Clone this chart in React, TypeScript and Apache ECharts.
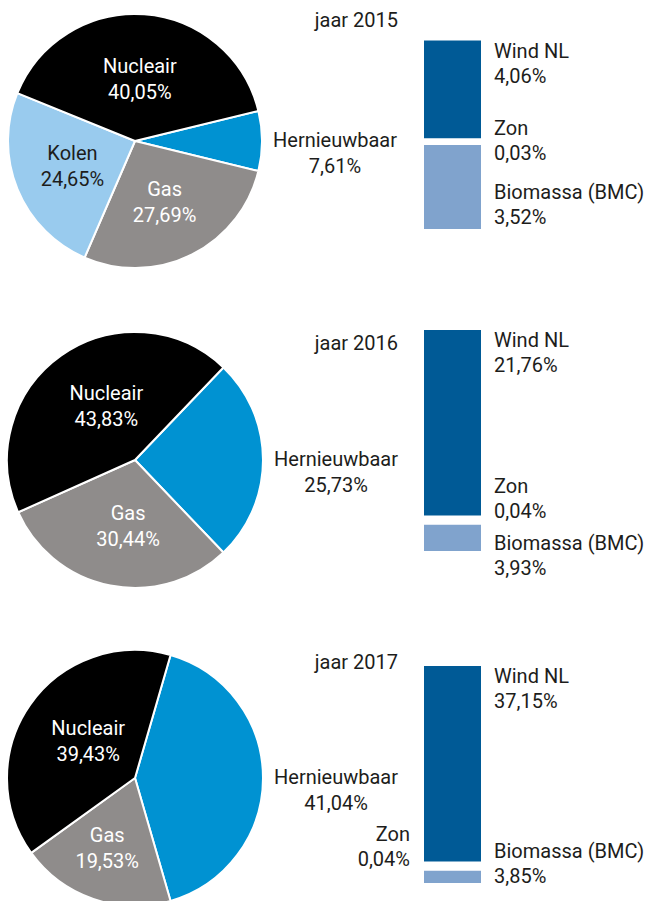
import React, { useEffect, useRef } from 'react';
import * as echarts from 'echarts';

// ---------- data ----------
const years = ['jaar 2015', 'jaar 2016', 'jaar 2017'];

const sources2015 = ['Hernieuwbaar', 'Gas', 'Kolen', 'Nucleair'];
const values2015 = [7.61, 27.69, 24.65, 40.05];
const sources2016 = ['Hernieuwbaar', 'Gas', 'Nucleair'];
const values2016 = [25.73, 30.44, 43.83];
const sources2017 = ['Hernieuwbaar', 'Gas', 'Nucleair'];
const values2017 = [41.04, 19.53, 39.43];

const renewableParts = ['Wind NL', 'Zon', 'Biomassa (BMC)'];
const windValues = [4.06, 21.76, 37.15];
const zonValues = [0.03, 0.04, 0.04];
const biomassaValues = [3.52, 3.93, 3.85];

// ---------- styles / layout ----------
const TEXT = '#1d1d1b';
const FONT = 'Roboto';
const sliceColors: Record<string, string> = {
  Hernieuwbaar: '#0092d2',
  Gas: '#8f8c8b',
  Kolen: '#99cbee',
  Nucleair: '#000000',
};
const sliceLabelColors: Record<string, string> = {
  Hernieuwbaar: TEXT,
  Gas: '#ffffff',
  Kolen: TEXT,
  Nucleair: '#ffffff',
};
const WIND_COLOR = '#005a96';
const BIO_COLOR = '#80a3cd';

const pieLayout = [
  { cx: 135, cy: 141, r: 127 },
  { cx: 135, cy: 460, r: 128 },
  { cx: 135, cy: 778, r: 128 },
];
// small nudges of the inside slice labels, keyed by slice name
const pieLabelNudge: Record<string, [number, number]>[] = [
  { Nucleair: [0, 4], Gas: [0, 1], Kolen: [-1, 0] },
  { Nucleair: [10, 1], Gas: [6, 0] },
  { Nucleair: [8, 2], Gas: [-6, 7] },
];
const titleTops = [7.5, 330.5, 649.5];
const barLayout = [
  { left: 421, width: 63, top: 37.5, height: 194.5, border: 3, dx: 10, windDy: 1, zonSide: 'right', zonDist: 10, zonDy: -1, bioDy: 37.5 },
  { left: 419.5, width: 66, top: 325.5, height: 230, border: 4.5, dx: 8.5, windDy: 2.3, zonSide: 'right', zonDist: 8.5, zonDy: -22, bioDy: 10 },
  { left: 419.5, width: 66, top: 661.5, height: 226, border: 4.5, dx: 8.5, windDy: 2.3, zonSide: 'left', zonDist: 9.5, zonDy: -20, bioDy: -27.8 },
];

const fmt = (v: number) => v.toFixed(2).replace('.', ',') + '%';

export default function App() {
  const ref = useRef<HTMLDivElement>(null);

  useEffect(() => {
    if (!ref.current) return;
    const chart = echarts.init(ref.current, undefined, { renderer: 'svg' });

    const pies = [
      { names: sources2015, values: values2015 },
      { names: sources2016, values: values2016 },
      { names: sources2017, values: values2017 },
    ];

    const labelBase = {
      fontFamily: FONT,
      fontSize: 20,
      lineHeight: 25,
      color: TEXT,
    };

    const pieSeries = pies.map((p, i) => {
      const L = pieLayout[i];
      return {
        type: 'pie',
        center: [L.cx, L.cy],
        radius: L.r,
        startAngle: (p.values[0] / 100) * 180,
        clockwise: true,
        silent: true,
        avoidLabelOverlap: false,
        itemStyle: { borderColor: '#ffffff', borderWidth: 2 },
        label: {
          show: true,
          position: 'inside',
          ...labelBase,
          lineHeight: 26,
          formatter: (d: any) => `${d.name}\n${fmt(d.value)}`,
        },
        labelLine: { show: false },
        labelLayout: (params: any) => {
          if (params.dataIndex === 0) {
            return { x: L.cx + L.r + 73, y: L.cy + 12, align: 'center', verticalAlign: 'middle' };
          }
          const n = pieLabelNudge[i][p.names[params.dataIndex]];
          return n ? { dx: n[0], dy: n[1] } : {};
        },
        data: p.names.map((n, k) => ({
          name: n,
          value: p.values[k],
          itemStyle: { color: sliceColors[n] },
          label: { color: sliceLabelColors[n] },
        })),
      };
    });

    const grids = barLayout.map((b) => ({
      left: b.left,
      top: b.top,
      width: b.width,
      height: b.height,
      containLabel: false,
    }));
    const xAxes = barLayout.map((_, i) => ({
      type: 'category',
      gridIndex: i,
      data: ['Hernieuwbaar'],
      show: false,
    }));
    const yAxes = barLayout.map((_, i) => ({
      type: 'value',
      gridIndex: i,
      min: 0,
      max: windValues[i] + zonValues[i] + biomassaValues[i],
      show: false,
    }));

    const barSeries: any[] = [];
    barLayout.forEach((b, i) => {
      const common = {
        type: 'bar',
        xAxisIndex: i,
        yAxisIndex: i,
        stack: 'ren' + i,
        barWidth: '100%',
        silent: true,
      };
      const lbl = (d: any) => `${d.seriesName}\n${fmt(d.value)}`;
      barSeries.push({
        ...common,
        name: renewableParts[2],
        data: [biomassaValues[i]],
        itemStyle: { color: BIO_COLOR, borderColor: '#ffffff', borderWidth: b.border },
        label: { show: true, ...labelBase, position: ['100%', 0], offset: [b.dx, b.bioDy], formatter: lbl },
      });
      barSeries.push({
        ...common,
        name: renewableParts[1],
        data: [zonValues[i]],
        itemStyle: { color: '#ffffff' },
        label: {
          show: true,
          ...labelBase,
          position: b.zonSide,
          distance: b.zonDist,
          offset: [0, b.zonDy],
          formatter: lbl,
        },
      });
      barSeries.push({
        ...common,
        name: renewableParts[0],
        data: [windValues[i]],
        itemStyle: { color: WIND_COLOR, borderColor: '#ffffff', borderWidth: b.border },
        label: { show: true, ...labelBase, position: ['100%', 0], offset: [b.dx, b.windDy], formatter: lbl },
      });
    });

    chart.setOption({
      animation: false,
      backgroundColor: '#ffffff',
      textStyle: { fontFamily: FONT },
      title: years.map((y, i) => ({
        text: y,
        right: 647 - 398,
        top: titleTops[i],
        padding: 0,
        textStyle: { fontFamily: FONT, fontSize: 20, fontWeight: 'normal', color: TEXT, lineHeight: 25 },
      })),
      grid: grids,
      xAxis: xAxes,
      yAxis: yAxes,
      series: [...pieSeries, ...barSeries],
    });

    return () => chart.dispose();
  }, []);

  return (
    <div
      ref={ref}
      style={{ position: 'absolute', left: 0, top: 0, width: 647, height: 901, background: '#fff' }}
    />
  );
}
